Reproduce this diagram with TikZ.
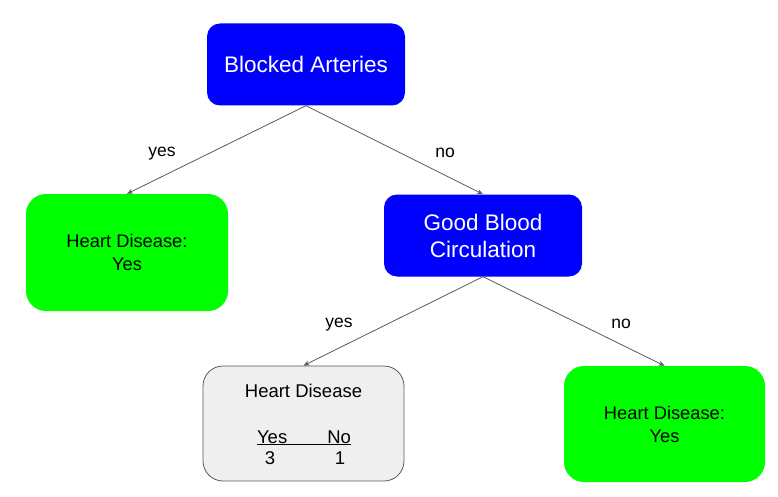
\documentclass[tikz,border=0pt]{standalone}
\usepackage{fontspec}
\setmainfont{Liberation Sans}
\usetikzlibrary{arrows.meta}
\definecolor{pureblue}{HTML}{0000FF}
\definecolor{puregreen}{HTML}{00FF00}
\definecolor{lightgraybox}{HTML}{EFEFEF}
\definecolor{edgegray}{HTML}{595959}
\tikzset{
  bluebox/.style={fill=pureblue, draw=none, rounded corners=13pt, text=white, align=center, font=\fontsize{22.5}{27}\selectfont, inner sep=0pt},
  greenbox/.style={fill=puregreen, draw=none, rounded corners=20pt, text=black, align=center, font=\fontsize{18.3}{23}\selectfont, inner sep=0pt},
  graybox/.style={fill=lightgraybox, draw=edgegray, line width=0.8pt, rounded corners=20pt, inner sep=0pt},
  conn/.style={draw=edgegray, line width=0.8pt, -{Stealth[length=6pt,width=5pt]}},
  elabel/.style={font=\fontsize{17.5}{20}\selectfont, text=black},
  graytext/.style={font=\fontsize{18.5}{22}\selectfont, text=black, inner sep=0pt}
}
\begin{document}
\begin{tikzpicture}[x=1pt,y=-1pt]
\useasboundingbox (0,0) rectangle (778,497);
\node[bluebox, minimum width=198pt, minimum height=82pt] (root) at (306,64.5) {Blocked Arteries};
\node[greenbox, minimum width=202pt, minimum height=117pt] (leftleaf) at (127,252.5) {Heart Disease:\\Yes};
\node[bluebox, minimum width=198pt, minimum height=82pt] (gbc) at (483,235.5) {Good Blood\\Circulation};
\node[graybox, minimum width=201pt, minimum height=115pt] (grayleaf) at (303.5,423.5) {};
\node[greenbox, minimum width=201pt, minimum height=116pt] (rightleaf) at (664.5,424) {Heart Disease:\\Yes};

\node[graytext] (hdtitle) at (303.5,391) {Heart Disease};
\node[graytext, anchor=base] (yesno) at (304,443) {\underline{Yes\hspace{40pt}No}};
\node[graytext] (three) at (270,458) {3};
\node[graytext] (one) at (340,458) {1};

\draw[conn] (root.south) -- (leftleaf.north);
\draw[conn] (root.south) -- (gbc.north);
\draw[conn] (gbc.south) -- (grayleaf.north);
\draw[conn] (gbc.south) -- (rightleaf.north);

\node[elabel] (l1) at (162,154) {yes};
\node[elabel] (l2) at (445,153) {no};
\node[elabel] (l3) at (339,325) {yes};
\node[elabel] (l4) at (621,324) {no};
\end{tikzpicture}
\end{document}
